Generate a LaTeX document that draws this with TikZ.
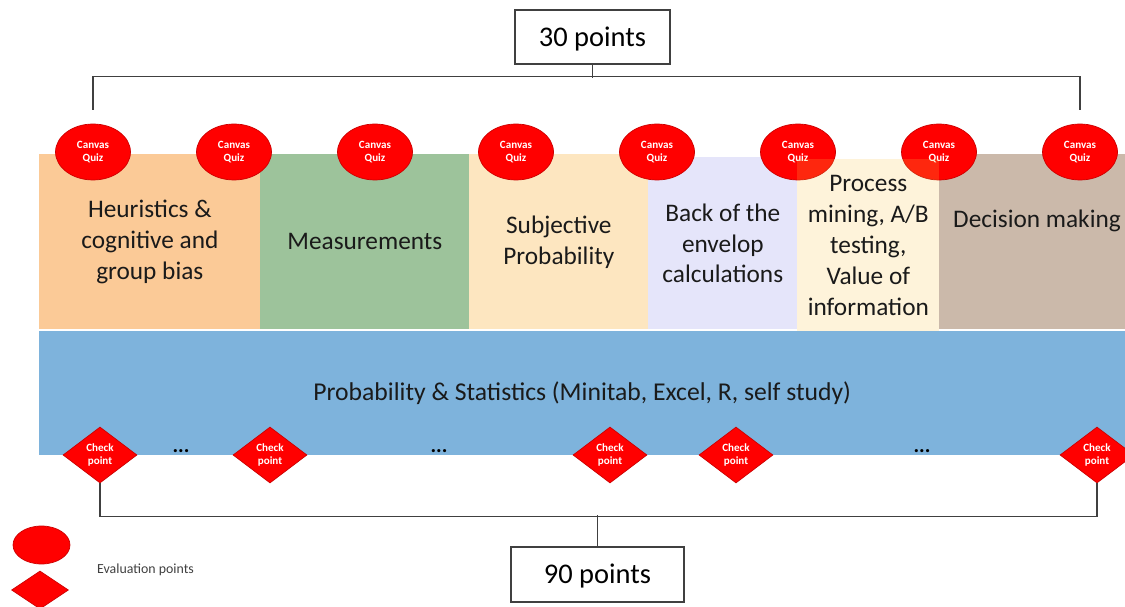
\documentclass[tikz,border=0pt]{standalone}
\usepackage{fontspec}
\setmainfont{Carlito}
\usetikzlibrary{positioning,shapes.geometric}

\definecolor{heurcol}{HTML}{FBCA97}
\definecolor{meascol}{HTML}{9DC39B}
\definecolor{subjcol}{HTML}{FDE6C0}
\definecolor{backcol}{HTML}{E5E5FA}
\definecolor{proccol}{RGB}{250,195,70}
\definecolor{decicol}{HTML}{CBB9AA}
\definecolor{statcol}{HTML}{7EB3DC}
\definecolor{linecol}{HTML}{404040}
\definecolor{txtcol}{HTML}{1A1A1A}

\begin{document}
\begin{tikzpicture}[%
		x=0.02cm,
		y=-0.02cm,
		topic/.style={%
			anchor=north west,
			inner sep=0pt,
			align=center,
			text=txtcol,
			font=\fontsize{14.4}{17.6}\selectfont
		},
		quiz/.style={%
			ellipse,
			fill=red,
			draw=red!80!black,
			minimum width=1.5cm,
			minimum height=1.12cm,
			inner sep=0pt,
			align=center,
			text=white,
			font=\fontsize{6.3}{7.6}\selectfont\bfseries
		},
		check/.style={%
			diamond,
			fill=red,
			draw=red!80!black,
			minimum width=1.48cm,
			minimum height=1.12cm,
			inner sep=0pt,
			align=center,
			text=white,
			font=\fontsize{6.3}{7.6}\selectfont\bfseries
		},
		score/.style={%
			draw=linecol,
			fill=white,
			line width=0.8pt,
			inner sep=0pt,
			text height=14pt,
			text depth=3.5pt,
			font=\fontsize{16.2}{20}\selectfont
		},
		dots/.style={font=\fontsize{12}{14}\selectfont\bfseries},
		bracket/.style={draw=linecol, line width=0.8pt}
		]
		\useasboundingbox (0,0) rectangle (1125,607);
		
		% topic blocks
		\node[topic, fill=heurcol, minimum width=4.42cm, minimum height=3.5cm] (heur) at (39,154) {Heuristics \&\\cognitive and\\group bias};
		\node[topic, fill=meascol, minimum width=4.18cm, minimum height=3.5cm] (meas) at (260,154) {Measurements};
		\node[topic, fill=subjcol, minimum width=3.58cm, minimum height=3.5cm] (subj) at (469,154) {Subjective\\Probability};
		\node[topic, fill=backcol, minimum width=2.98cm, minimum height=3.44cm] (back) at (648,157) {Back of the\\envelop\\calculations};
		\node[topic, fill=decicol, minimum width=3.72cm, minimum height=3.5cm] (deci) at (939,154) {};
		\node[topic, anchor=center] (decitxt) at (1037,221) {Decision making};
		\node[topic, fill=statcol, minimum width=21.72cm, minimum height=2.48cm, font=\fontsize{14.6}{17.6}\selectfont] (stat) at (39,331) {Probability \& Statistics (Minitab, Excel, R, self study)};
		
		% canvas quizzes
		\foreach \i/\x in {1/93,2/234,3/375,4/516,5/657,6/798,7/939,8/1080}
			\node[quiz] (q\i) at (\x,152) {Canvas\\Quiz};
		
		\node[topic, fill=proccol, fill opacity=0.2, text opacity=1, minimum width=2.84cm, minimum height=3.44cm] (proc) at (797,159) {Process\\mining, A/B\\testing,\\Value of\\information};
		
		% check points
		\foreach \i/\x in {1/100,2/270,3/610,4/736,5/1097}
			\node[check] (c\i) at (\x,455) {Check\\point};
		\node[dots] (d1) at (181,451) {...};
		\node[dots] (d2) at (439,451) {...};
		\node[dots] (d3) at (922,451) {...};
		
		% totals
		\node[score, minimum width=3.1cm, minimum height=1.08cm] (top30) at (592.5,37) {30 points};
		\node[score, minimum width=3.46cm, minimum height=1.1cm] (bot90) at (597.5,574.5) {90 points};
		
		\draw[bracket] ([yshift=0.28cm]q1.north) -- ++(0,-33) -| ([yshift=0.28cm]q8.north);
		\draw[bracket] (top30.south) -- ++(0,13);
		\draw[bracket] (c1.south) -- ++(0,33) -| (c5.south);
		\draw[bracket] (bot90.north) -- ++(0,-31);
		
		% legend
		\node[quiz, minimum width=1.14cm, minimum height=0.76cm] (legq) at (41.5,545) {};
		\node[check, minimum width=1.14cm, minimum height=0.76cm] (legc) at (40,590) {};
		\node[anchor=west, text=linecol, font=\fontsize{7.9}{9.5}\selectfont] (legtxt) at (91,570) {Evaluation points};
\end{tikzpicture}
\end{document}
